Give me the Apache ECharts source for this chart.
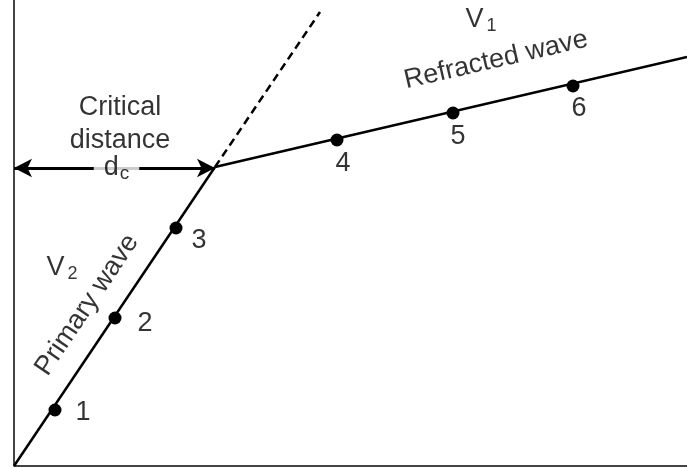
<!DOCTYPE html>
<html>
<head>
<meta charset="utf-8">
<script src="https://cdn.jsdelivr.net/npm/echarts@6/dist/echarts.min.js"></script>
<style>
  html, body { margin: 0; padding: 0; background: #fff; }
  #chart { width: 687px; height: 468px; }
</style>
</head>
<body>
<div id="chart"></div>
<script>
// distance (x) vs travel time (y), arbitrary units
var primaryLine = [[0, 0], [201, 299]]
var dashedLine = [[201, 299], [306, 454]]
var refractedLine = [[201, 299], [673, 409]]
var geophones = [[41, 56], [101, 148], [162, 238], [323, 326], [439, 353], [559, 380]]
var geophoneNames = ['1', '2', '3', '4', '5', '6']
var numberPos = [[69, 53], [131, 142], [185, 225], [329, 302], [444, 329], [565, 357]]
var crossover = 201
var arrowY = 298

// annotations: [x, y, text, rotate]
var notes = [
  [106, 342, 'Critical\ndistance', 0],
  [48, 198, '{v|V}{s|2}', 0],
  [467, 446, '{v|V}{s|1}', 0],
  [73, 161, 'Primary wave', 56],
  [482, 406, 'Refracted wave', 13]
]

var chart = echarts.init(document.getElementById('chart'))
var font = 'Liberation Sans, Arial, sans-serif'
var richText = {
  v: { fontSize: 27, fontFamily: font, color: '#000' },
  s: { fontSize: 18, fontFamily: font, color: '#000', padding: [12, 0, 0, 3] },
  d: { fontSize: 27, fontFamily: font, color: '#000' },
  c: { fontSize: 19, fontFamily: font, color: '#000', padding: [12, 0, 0, 1] }
}

chart.setOption({
  animation: false,
  grid: { left: 14, right: 0, top: 0, bottom: 2 },
  xAxis: {
    type: 'value', min: 0, max: 673,
    axisLine: { show: false }, axisTick: { show: false },
    axisLabel: { show: false }, splitLine: { show: false }
  },
  yAxis: {
    type: 'value', min: 0, max: 466,
    axisLine: { show: false }, axisTick: { show: false },
    axisLabel: { show: false }, splitLine: { show: false }
  },
  series: [
    {
      // axes frame (left and bottom)
      type: 'line',
      data: [[0, 466], [0, 0], [673, 0]],
      symbol: 'none',
      lineStyle: { color: '#444', width: 2 },
      z: 1
    },
    {
      type: 'line',
      data: primaryLine,
      symbol: 'none',
      lineStyle: { color: '#000', width: 2.5 }
    },
    {
      type: 'line',
      data: dashedLine,
      symbol: 'none',
      lineStyle: { color: '#000', width: 2.5, type: [8, 5] }
    },
    {
      type: 'line',
      data: refractedLine,
      symbol: 'none',
      lineStyle: { color: '#000', width: 2.5 },
      markLine: {
        silent: true,
        symbol: ['arrow', 'arrow'],
        symbolSize: [14, 18],
        lineStyle: { color: '#000', width: 3, type: 'solid' },
        label: { show: false },
        data: [[{ coord: [0, arrowY] }, { coord: [crossover, arrowY] }]]
      }
    },
    {
      type: 'scatter',
      data: geophones,
      symbol: 'circle',
      symbolSize: 13,
      itemStyle: { color: '#000', opacity: 1 },
      z: 5
    },
    {
      type: 'scatter',
      data: numberPos.map(function(p, i) { return { value: p, name: geophoneNames[i] } }),
      symbolSize: 0,
      label: {
        show: true, position: 'inside',
        formatter: '{b}',
        fontSize: 27, fontFamily: font, color: '#000'
      }
    },
    {
      // d_c label over the arrow
      type: 'scatter',
      symbolSize: 0,
      z: 10,
      data: [{
        value: [crossover / 2 + 2, arrowY],
        label: {
          show: true, position: 'inside',
          formatter: '{d|d}{c|c}',
          backgroundColor: '#fff',
          padding: [0, 10, 0, 10],
          rich: richText
        }
      }]
    },
    {
      type: 'scatter',
      symbolSize: 0,
      data: notes.map(function(n) {
        return {
          value: [n[0], n[1]],
          label: {
            show: true, position: 'inside', rotate: n[3],
            formatter: n[2],
            fontSize: 27, fontFamily: font, color: '#000', lineHeight: 33,
            rich: richText
          }
        }
      })
    }
  ]
})
</script>
</body>
</html>
